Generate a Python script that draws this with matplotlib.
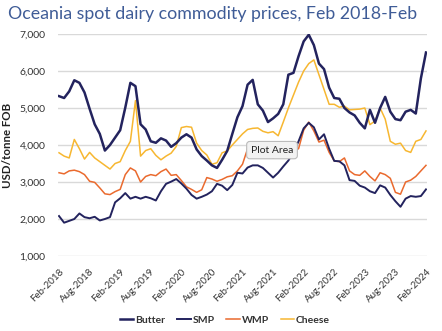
import matplotlib
matplotlib.use("Agg")
import matplotlib.pyplot as plt
import numpy as np

plt.rcParams['font.family'] = ['Lato', 'DejaVu Sans']

# Monthly Oceania spot prices, USD/tonne FOB, Feb 2018 .. Feb 2024
butter = [5320, 5270, 5450, 5750, 5680, 5420, 4980, 4560, 4300, 3850,
          4000, 4200, 4400, 5010, 5680, 5590, 4560, 4420, 4100, 4060,
          4180, 4120, 3950, 4050, 4200, 4290, 4200, 3880, 3700, 3580,
          3450, 3380, 3600, 3840, 4300, 4750, 5050, 5630, 5760, 5100,
          4930, 4620, 4720, 4840, 5100, 5900, 5950, 6400, 6800, 6980,
          6700, 6200, 6050, 5550, 5270, 5250, 5000, 4880, 4800, 4600,
          4450, 4950, 4600, 5000, 5300, 4900, 4700, 4670, 4900, 4950,
          4850, 5800, 6500]
smp = [2080, 1900, 1950, 2000, 2150, 2050, 2020, 2060, 1960, 2000,
       2050, 2450, 2560, 2700, 2550, 2600, 2550, 2600, 2560, 2500,
       2750, 2950, 3010, 3080, 2960, 2820, 2650, 2550, 2600, 2660,
       2750, 2950, 2900, 2780, 2920, 3250, 3230, 3390, 3450, 3450,
       3380, 3250, 3120, 3250, 3420, 3580, 3800, 4100, 4450, 4600,
       4480, 4150, 4290, 3900, 3570, 3560, 3450, 3050, 3030, 2900,
       2850, 2750, 2700, 2910, 2850, 2650, 2480, 2330, 2550, 2620,
       2600, 2620, 2800]
wmp = [3250, 3220, 3300, 3320, 3280, 3200, 3020, 2990, 2840, 2680,
       2660, 2740, 2800, 3200, 3380, 3300, 3000, 3150, 3200, 3170,
       3280, 3350, 3180, 3200, 3040, 2870, 2800, 2720, 2790, 3120,
       3080, 3020, 3070, 3140, 3170, 3300, 3480, 3900, 3850, 3800,
       3800, 3750, 3650, 3750, 3800, 3850, 3850, 3900, 4400, 4620,
       4380, 4080, 4130, 3800, 3570, 3550, 3650, 3300, 3200, 3180,
       3300, 3150, 3030, 3250, 3200, 3100, 2720, 2670, 3000, 3050,
       3150, 3300, 3450]
cheese = [3790, 3700, 3650, 4150, 3900, 3620, 3800, 3650, 3550, 3450,
          3350, 3500, 3550, 3850, 4100, 5200, 3700, 3850, 3900, 3720,
          3600, 3700, 3780, 3960, 4470, 4500, 4480, 4050, 3850, 3730,
          3480, 3520, 3790, 3840, 4000, 4150, 4300, 4420, 4450, 4460,
          4370, 4330, 4360, 4250, 4620, 5000, 5350, 5700, 6000, 6200,
          6300, 5900, 5500, 5100, 5100, 5020, 5050, 4950, 4960, 4970,
          5000, 4550, 4650, 5000, 4700, 4100, 4020, 4050, 3850, 3800,
          4100, 4150, 4380]

tick_labels = ['Feb-2018', 'Aug-2018', 'Feb-2019', 'Aug-2019', 'Feb-2020',
               'Aug-2020', 'Feb-2021', 'Aug-2021', 'Feb-2022', 'Aug-2022',
               'Feb-2023', 'Aug-2023', 'Feb-2024']
y_ticks = [1000, 2000, 3000, 4000, 5000, 6000, 7000]

W, H = 442, 331
fig = plt.figure(figsize=(W / 100, H / 100), dpi=100)
left, right, top, bottom = 58, 427, 34, 256
ax = fig.add_axes([left / W, 1 - bottom / H, (right - left) / W, (bottom - top) / H])

months = np.arange(len(butter))
navy = '#23235E'
ax.plot(months, cheese, color='#F7B731', lw=1.1, label='Cheese', zorder=3)
ax.plot(months, wmp, color='#EA6A2E', lw=1.1, label='WMP', zorder=3)
ax.plot(months, smp, color=navy, lw=1.4, label='SMP', zorder=4)
ax.plot(months, butter, color=navy, lw=1.8, label='Butter', zorder=5)

ax.set_xlim(-0.2, 72.2)
ax.set_ylim(1000, 7000)
ax.set_yticks(y_ticks)
ax.set_yticklabels([f'{v:,}' for v in y_ticks])
ax.set_xticks(np.arange(0, 73, 6))
ax.set_xticklabels(tick_labels, rotation=45, ha='right', va='top',
                   rotation_mode='anchor')
ax.tick_params(axis='both', length=0, colors='#333333')
ax.tick_params(axis='y', pad=9, labelsize=7.5)
ax.tick_params(axis='x', pad=8, labelsize=7)
for lbl in ax.get_xticklabels():
    lbl.set_x(lbl.get_position()[0])
for s in ax.spines.values():
    s.set_visible(False)
ax.grid(axis='y', color='#D9D9D9', lw=1)
ax.set_axisbelow(True)

ax.set_ylabel('USD/tonne FOB', fontsize=8.3, fontweight='bold', color='#222222',
              labelpad=5)

fig.text(8 / W, 1 - 14 / H, 'Oceania spot dairy commodity prices, Feb 2018-Feb',
         fontsize=12.8, color='#3F5C97', va='center', ha='left')

# hover tooltip over the plot area
ax.text(0.58, 0.477, 'Plot Area', transform=ax.transAxes, fontsize=7.5,
        color='#222222', ha='center', va='center', zorder=10,
        bbox=dict(boxstyle='round,pad=0.4,rounding_size=0.3', fc='#F2F2F2',
                  ec='#BBBBBB', lw=0.8))

handles, labels = ax.get_legend_handles_labels()
order = [3, 2, 1, 0]
leg = fig.legend([handles[i] for i in order], [labels[i] for i in order],
                 loc='center', bbox_to_anchor=(225 / W, 1 - 320 / H), ncol=4,
                 frameon=False, fontsize=7.5, handlelength=1.3, handletextpad=0.2,
                 columnspacing=1.1)
for t in leg.get_texts():
    t.set_color('#333333')
    t.set_fontweight('bold')

fig.savefig('out.png', dpi=100, facecolor='white')
